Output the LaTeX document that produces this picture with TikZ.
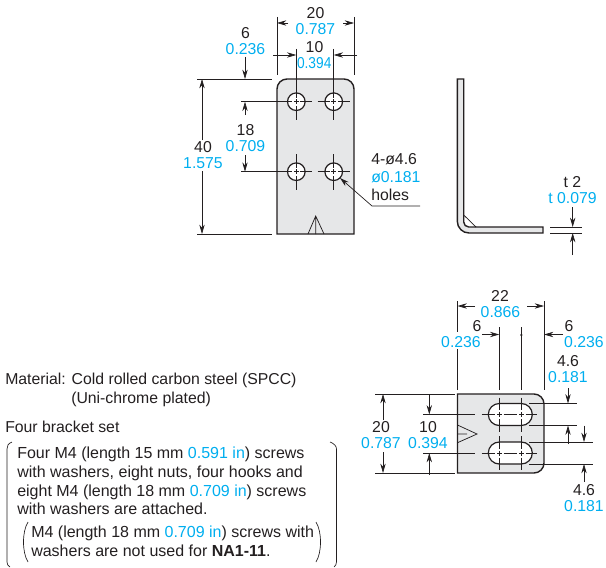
\documentclass[tikz,border=0pt]{standalone}
\usepackage{fontspec}
\setmainfont{Liberation Sans}
\usetikzlibrary{arrows.meta}
\definecolor{cy}{HTML}{00AEEF}
\definecolor{ink}{HTML}{231F20}
\definecolor{plate}{HTML}{E6E7E8}
\newcommand{\cya}[1]{\textcolor{cy}{#1}}
\tikzset{
  dim/.style={draw=ink,line width=0.5pt},
  dimarrow/.style={dim,-{Stealth[length=7pt,width=4pt]}},
  part/.style={draw=ink,line width=1.05pt,fill=plate},
  partline/.style={draw=ink,line width=0.55pt},
  lbl/.style={text=ink,inner sep=0pt,font=\fontsize{11.85pt}{14pt}\selectfont},
  vall/.style={lbl,text=cy},
  txt/.style={lbl,anchor=base west},
  note/.style={txt,font=\fontsize{12pt}{14pt}\selectfont},
}
\begin{document}
\begin{tikzpicture}[x=0.75pt,y=-0.75pt]
\useasboundingbox (0,0) rectangle (606,567);
% ---- front view
\draw[part] (277,234) -- (277,89) arc[start angle=180,end angle=270,radius=10] -- (344,79) arc[start angle=270,end angle=360,radius=10] -- (354,234) -- cycle;
\foreach \x in {296.3,333.7}\foreach \y in {101.7,171.7}{
  \draw[draw=ink,line width=0.9pt,fill=white] (\x,\y) circle[radius=8.8];
  \draw[partline] (\x-2.5,\y) -- (\x+2.5,\y) (\x,\y-2.5) -- (\x,\y+2.5);
  \draw[partline] (\x,\y+8.8) -- (\x,\y+4) (\x,\y-8.8) -- (\x,\y-4) (\x-8.8,\y) -- (\x-4,\y) (\x+8.8,\y) -- (\x+4,\y);
  \draw[partline] (\x-16,\y) -- (\x-8.8,\y) (\x+8.8,\y) -- (\x+16,\y) (\x,\y+8.8) -- (\x,\y+18) (\x,\y-8.8) -- (\x,\y-18);
}
\draw[partline] (308,234) -- (315.7,216) -- (324,234) (315.7,216) -- (315.7,234);
\draw[dim] (277,17) -- (277,75) (354,17) -- (354,75);
\draw[dim] (296.3,49) -- (296.3,92) (333.7,49) -- (333.7,92);
\draw[dim] (197,79) -- (272,79) (197,234) -- (272,234);
\draw[dim] (241,101.7) -- (280,101.7) (241,171.7) -- (280,171.7);
\coordinate (a1) at (288,23);\coordinate (a2) at (277,23);\draw[dimarrow] (a1) -- (a2);
\coordinate (a3) at (343,23);\coordinate (a4) at (354,23);\draw[dimarrow] (a3) -- (a4);
\coordinate (a5) at (273,55);\coordinate (a6) at (296.3,55);\draw[dimarrow] (a5) -- (a6);
\coordinate (a7) at (357,55);\coordinate (a8) at (333.7,55);\draw[dimarrow] (a7) -- (a8);
\coordinate (a9) at (245,57);\coordinate (a10) at (245,79);\draw[dimarrow] (a9) -- (a10);
\coordinate (b1) at (245,115);\coordinate (b2) at (245,101.7);\draw[dimarrow] (b1) -- (b2);
\coordinate (b3) at (245,155);\coordinate (b4) at (245,171.7);\draw[dimarrow] (b3) -- (b4);
\coordinate (b5) at (202,140);\coordinate (b6) at (202,79);\draw[dimarrow] (b5) -- (b6);
\coordinate (b7) at (202,171);\coordinate (b8) at (202,234);\draw[dimarrow] (b7) -- (b8);
\coordinate (l1) at (420,206);\coordinate (l2) at (372,206);\coordinate (l3) at (340,178);
\draw[dimarrow] (l1) -- (l2) -- (l3);
\node[lbl] (t20) at (315.5,13) {20};
\node[vall] (v20) at (315.5,29) {0.787};
\node[lbl] (t10) at (314.5,47) {10};
\node[vall] (v10) at (314.2,63) {\scalebox{0.87}[1]{0.394}};
\node[lbl] (t6) at (245.5,33) {6};
\node[vall] (v6) at (245.5,49) {0.236};
\node[lbl] (t18) at (245.5,130.5) {18};
\node[vall] (v18) at (245.5,146.5) {0.709};
\node[lbl] (t40) at (203,147.5) {40};
\node[vall] (v40) at (203,163.5) {1.575};
\node[lbl,anchor=west] (th) at (371,159) {4-ø4.6};
\node[vall,anchor=west] (vh) at (371,177) {ø0.181};
\node[lbl,anchor=west] (hh) at (371,195) {holes};
% ---- side view
\draw[part] (457.3,79) -- (463.7,79) -- (463.7,222) arc[start angle=180,end angle=90,radius=5] -- (543,227) -- (543,233) -- (469,233) arc[start angle=90,end angle=180,radius=11.7] -- cycle;
\draw[partline] (463.7,215) -- (476,227);
\draw[dim] (550,227) -- (582,227) (550,233) -- (582,233);
\coordinate (c1) at (572.7,207);\coordinate (c2) at (572.7,227);\draw[dimarrow] (c1) -- (c2);
\coordinate (c3) at (572.7,255);\coordinate (c4) at (572.7,233);\draw[dimarrow] (c3) -- (c4);
\node[lbl] (tt) at (572.5,182) {t 2};
\node[vall] (vt) at (572.5,198) {t 0.079};
% ---- bottom view
\draw[part] (457.5,394) -- (534,394) arc[start angle=270,end angle=360,radius=10] -- (544,463) arc[start angle=0,end angle=90,radius=10] -- (457.5,473) -- cycle;
\foreach \y in {414.5,453}{
  \draw[draw=ink,line width=0.9pt,fill=white] (499.3,\y-11) -- (521.3,\y-11) arc[start angle=270,end angle=450,radius=11] -- (499.3,\y+11) arc[start angle=90,end angle=270,radius=11] -- cycle;
  \draw[partline] (423,\y) -- (475,\y) (481.7,\y) -- (495,\y) (497,\y) -- (501.6,\y) (503.6,\y) -- (517,\y) (519,\y) -- (523.6,\y) (525.6,\y) -- (536.7,\y);
  \draw[partline] (499.3,\y-2.5) -- (499.3,\y+2.5) (521.3,\y-2.5) -- (521.3,\y+2.5);
  \draw[partline] (499.3,\y-17) -- (499.3,\y-4.5) (521.3,\y-17) -- (521.3,\y-4.5) (499.3,\y+4.5) -- (499.3,\y+17) (521.3,\y+4.5) -- (521.3,\y+17);
}
\draw[partline] (457.5,425) -- (477,434) -- (457.5,442.7) (457.5,434) -- (467,434);
\draw[dim] (457.5,301) -- (457.5,332) (457.5,349) -- (457.5,390) (544,301) -- (544,390);
\draw[dim] (499.3,327) -- (499.3,390) (521.3,327) -- (521.3,390);
\fill[ink] (521.3,335) circle[radius=1.3];
\draw[dim] (375,394) -- (455,394) (375,473) -- (455,473);
\draw[dim] (529,403.5) -- (577,403.5) (529,425.5) -- (577,425.5) (529,442) -- (593,442) (529,464) -- (593,464);
\coordinate (d1) at (475,306);\coordinate (d2) at (457.5,306);\draw[dimarrow] (d1) -- (d2);
\coordinate (d3) at (527,306);\coordinate (d4) at (544,306);\draw[dimarrow] (d3) -- (d4);
\coordinate (d5) at (482,334.5);\coordinate (d6) at (499.3,334.5);\draw[dimarrow] (d5) -- (d6);
\coordinate (d7) at (563,334.5);\coordinate (d8) at (544,334.5);\draw[dimarrow] (d7) -- (d8);
\coordinate (e1) at (568,388);\coordinate (e2) at (568,403.5);\draw[dimarrow] (e1) -- (e2);
\coordinate (e3) at (568,444);\coordinate (e4) at (568,425.5);\draw[dimarrow] (e3) -- (e4);
\coordinate (e5) at (584,425.5);\coordinate (e6) at (584,442);\draw[dimarrow] (e5) -- (e6);
\coordinate (e7) at (584,482);\coordinate (e8) at (584,464);\draw[dimarrow] (e7) -- (e8);
\coordinate (f1) at (383,420);\coordinate (f2) at (383,394);\draw[dimarrow] (f1) -- (f2);
\coordinate (f3) at (383,452);\coordinate (f4) at (383,473);\draw[dimarrow] (f3) -- (f4);
\coordinate (f5) at (429.3,394);\coordinate (f6) at (429.3,414.5);\draw[dimarrow] (f5) -- (f6);
\coordinate (f7) at (429.3,475);\coordinate (f8) at (429.3,453);\draw[dimarrow] (f7) -- (f8);
\node[lbl] (t22) at (500,296) {22};
\node[vall] (v22) at (500.5,312) {0.866};
\node[lbl] (t6l) at (477,326) {6};
\node[vall] (v6l) at (461,342) {0.236};
\node[lbl] (t6r) at (569,326) {6};
\node[vall] (v6r) at (584,342) {0.236};
\node[lbl] (t46a) at (568,361) {4.6};
\node[vall] (v46a) at (568,377) {0.181};
\node[lbl] (t46b) at (584,490) {4.6};
\node[vall] (v46b) at (584,506) {0.181};
\node[lbl] (t20b) at (381,427) {20};
\node[vall] (v20b) at (381,443) {0.787};
\node[lbl] (t10b) at (428,427) {10};
\node[vall] (v10b) at (428,443) {0.394};
% ---- notes
\node[txt] (m1) at (5,384) {Material: Cold rolled carbon steel (SPCC)};
\node[txt] (m2) at (71,403) {(Uni-chrome plated)};
\node[txt] (m3) at (5,432) {Four bracket set};
\node[note] (n1) at (17,458.5) {Four M4 (length 15 mm \cya{0.591 in}) screws};
\node[note] (n2) at (17,477) {with washers, eight nuts, four hooks and};
\node[note] (n3) at (17,496) {eight M4 (length 18 mm \cya{0.709 in}) screws};
\node[note] (n4) at (17,514.5) {with washers are attached.};
\node[note] (n5) at (31,537) {M4 (length 18 mm \cya{0.709 in}) screws with};
\node[note] (n6) at (31,556) {washers are not used for \textbf{NA1-11}.};
\draw[dim] (12,442) .. controls (8,443.5) and (7,446) .. (7,449) -- (7,562) .. controls (7,564) and (8,566) .. (10,567);
\draw[dim] (330,442) .. controls (334,443.5) and (336.5,446) .. (336.5,449) -- (336.5,562) .. controls (336.5,564) and (335.5,566) .. (334,567);
\draw[dim] (28,522) .. controls (25,527) and (23.5,534) .. (23.5,542) .. controls (23.5,550) and (25,557) .. (28,562);
\draw[dim] (316,522) .. controls (319,527) and (320.5,534) .. (320.5,542) .. controls (320.5,550) and (319,557) .. (316,562);
\end{tikzpicture}
\end{document}
